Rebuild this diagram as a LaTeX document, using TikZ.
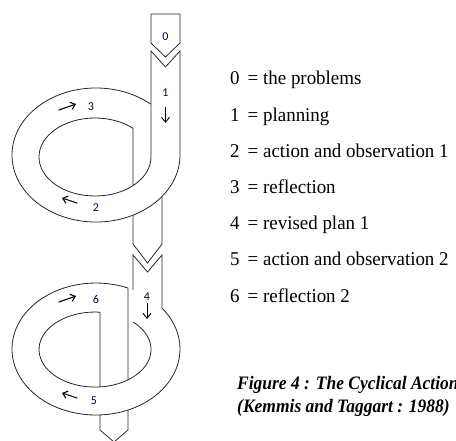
\documentclass[tikz,border=0pt]{standalone}
\usepackage{fontspec}
\setmainfont{Liberation Serif}
\newfontfamily\labfont{Carlito}
\newfontfamily\legfont[FakeStretch=0.97]{Liberation Serif}
\newfontfamily\capfont[FakeStretch=0.92]{Liberation Serif}
\usetikzlibrary{arrows.meta}
\begin{document}
\begin{tikzpicture}[x=1pt,y=1pt,
  tube/.style={draw=black!85, line width=0.8pt},
  num/.style={font=\labfont\fontsize{12}{12}\selectfont, text=blue!35!black, inner sep=0pt},
  flow/.style={-{Straight Barb[length=4.5pt,width=7.5pt]}, line width=1.1pt, line cap=round},
  down/.style={-{Straight Barb[length=5pt,width=8pt]}, line width=0.9pt},
  leg/.style={font=\legfont\fontsize{19.5}{19.5}\selectfont, anchor=base west, inner sep=0pt},
  capt/.style={font=\capfont\bfseries\itshape\fontsize{19}{19}\selectfont, anchor=base west, inner sep=0pt}]
\useasboundingbox (0,0) rectangle (456,-441);

% box 0
\draw[tube] (151,-14) -- (180,-14) -- (180,-43) -- (165.5,-57) -- (151,-43) -- cycle;
% loop 1: outer edge
\draw[tube] (165.5,-67) -- (180,-51) -- (180,-155)
  arc[start angle=0, end angle=-310.6, x radius=84, y radius=67];
% loop 1: inner edge
\draw[tube] (165.5,-67) -- (151,-51) -- (151,-157)
  arc[start angle=0, end angle=-312.7, x radius=56, y radius=39] -- (133,-185.7);
% tube below loop 1
\draw[tube] (133,-215.1) -- (133,-244) -- (147.5,-263) -- (162,-244) -- (162,-196.4);
% loop 2: outer edge
\draw[tube] (133,-290) -- (133,-255) -- (147.5,-272) -- (162,-255) -- (162,-308.2)
  arc[start angle=38.2, end angle=-292.4, x radius=84, y radius=66] -- (128,-379.8);
% loop 2: inner edge
\draw[tube] (133,-322)
  arc[start angle=47.3, end angle=-275.1, x radius=56, y radius=37.5] -- (100,-386.9);
% tube below loop 2
\draw[tube] (100,-414.9) -- (100,-430) -- (114,-442) -- (128,-430) -- (128,-410);

% step numbers
\node[num] (n0) at (165.5,-37) {0};
\node[num] (n1) at (165.5,-93) {1};
\node[num] (n2) at (96,-208) {2};
\node[num] (n3) at (91,-107) {3};
\node[num] (n4) at (147,-297) {4};
\node[num] (n5) at (94,-401) {5};
\node[num] (n6) at (96,-299) {6};

% direction arrows
\coordinate (a1s) at (165.5,-107); \coordinate (a1e) at (165.5,-123);
\coordinate (a4s) at (147,-303);   \coordinate (a4e) at (147,-319);
\coordinate (a3s) at (59,-110);    \coordinate (a3e) at (76,-104);
\coordinate (a2s) at (77,-203);    \coordinate (a2e) at (62,-198);
\coordinate (a6s) at (59,-302);    \coordinate (a6e) at (76,-296);
\coordinate (a5s) at (77,-398);    \coordinate (a5e) at (62,-393);
\draw[down] (a1s) -- (a1e);
\draw[down] (a4s) -- (a4e);
\draw[flow] (a3s) -- (a3e);
\draw[flow] (a2s) -- (a2e);
\draw[flow] (a6s) -- (a6e);
\draw[flow] (a5s) -- (a5e);

% legend
\foreach \d/\t/\y in {0/the problems/84.5, 1/planning/121.5, 2/action and observation 1/157.5,
  3/reflection/193.5, 4/revised plan 1/229.5, 5/action and observation 2/265.5, 6/reflection 2/302.5}{
  \node[leg] (k\d) at (230,-\y) {\d};
  \node[leg] (e\d) at (247.5,-\y) {=};
  \node[leg] (t\d) at (263,-\y) {\t};
}

% caption
\node[capt] (c1) at (237,-390) {Figure 4 : The Cyclical Action};
\node[capt] (c2) at (237,-413) {(Kemmis and Taggart : 1988)};
\end{tikzpicture}
\end{document}
